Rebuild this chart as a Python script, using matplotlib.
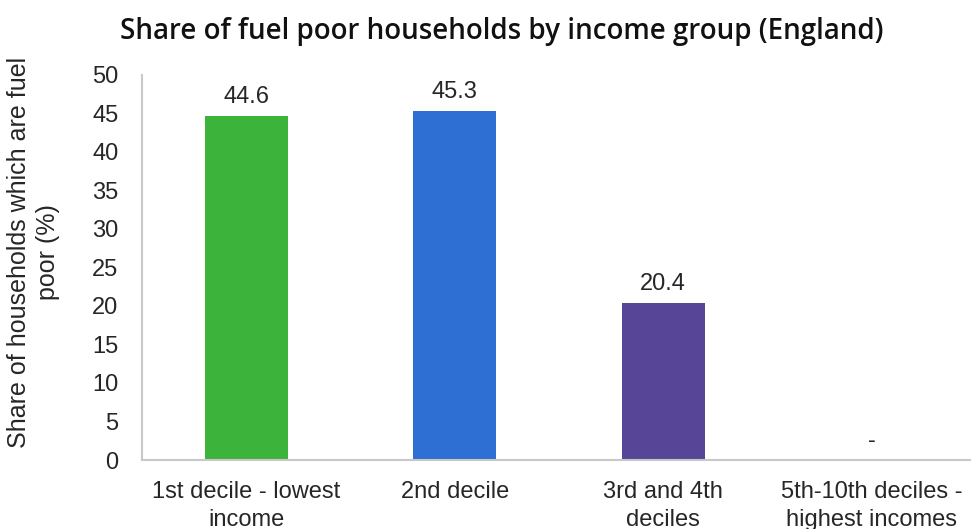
import matplotlib.pyplot as plt

# Fuel poverty share by income group (England)
categories = ['1st decile - lowest\nincome', '2nd decile', '3rd and 4th\ndeciles',
              '5th-10th deciles -\nhighest incomes']
values = [44.6, 45.3, 20.4, 0]
value_labels = ['44.6', '45.3', '20.4', '-']
colors = ['#3cb43c', '#2d6fd2', '#574697']

fig = plt.figure(figsize=(9.71, 5.29), dpi=100)
ax = fig.add_axes([0.1462, 0.1304, 0.859, 0.728])

bars = ax.bar(range(len(categories)), values, width=0.40,
              color=colors + ['#808080'])
ax.bar_label(bars, labels=value_labels, padding=6, fontsize=17,
             family='Liberation Sans', color='#262626')

ax.set_xlim(-0.5, 3.5)
ax.set_ylim(0, 50)
ax.set_yticks(range(0, 51, 5))
ax.set_xticks(range(len(categories)))
ax.set_xticklabels(categories, fontsize=17, family='Liberation Sans',
                   color='#262626', linespacing=1.34)
ax.tick_params(axis='y', labelsize=17, length=0, pad=17, labelcolor='#262626')
ax.tick_params(axis='x', length=0, pad=15)
for lbl in ax.get_yticklabels():
    lbl.set_family('Liberation Sans')

for s in ['top', 'right']:
    ax.spines[s].set_visible(False)
for s in ['left', 'bottom']:
    ax.spines[s].set_color('#c8c8c8')
    ax.spines[s].set_linewidth(1.5)

ax.set_ylabel('Share of households which are fuel\npoor (%)', fontsize=18,
              family='Liberation Sans', color='#262626', linespacing=1.25)
ax.yaxis.set_label_coords(-0.098, 0.54)

fig.suptitle('Share of fuel poor households by income group (England)',
             x=0.517, y=0.967, fontsize=20, fontweight='semibold',
             family='Open Sans', color='#111111')

fig.savefig('out.png', dpi=100)
